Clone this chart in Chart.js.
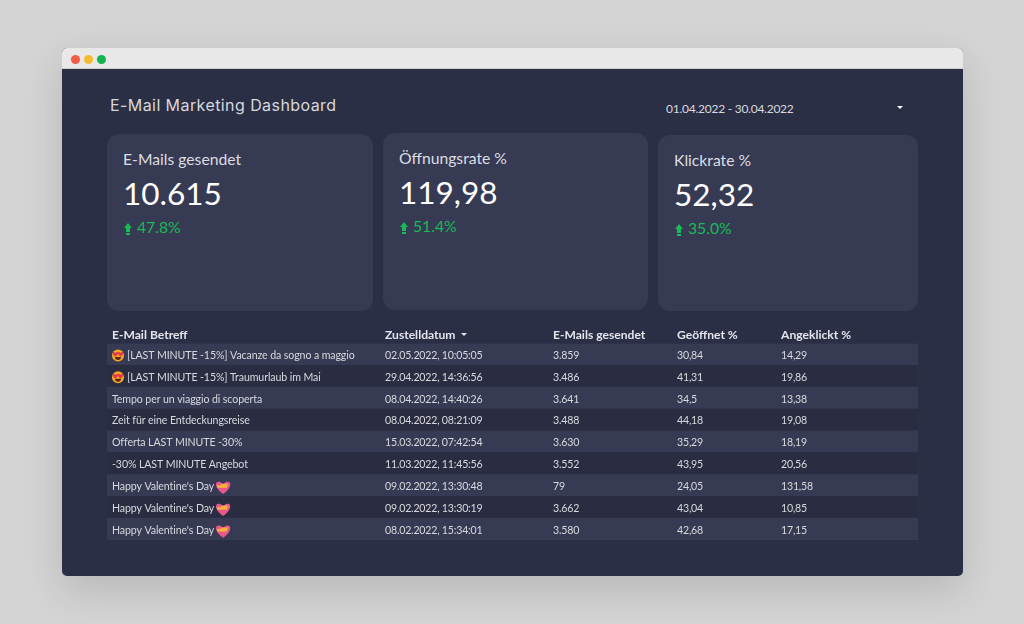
<!DOCTYPE html>
<html lang="de">
<head>
<meta charset="utf-8">
<title>E-Mail Marketing Dashboard</title>
<script src="https://cdn.jsdelivr.net/npm/chart.js@4"></script>
<style>
  html, body { margin: 0; padding: 0; width: 1024px; height: 624px; overflow: hidden; background: #d4d4d4; font-family: Lato, sans-serif; }
  .window { position: absolute; left: 62px; top: 48px; width: 901px; height: 528px; border-radius: 5px; overflow: hidden; box-shadow: 0 14px 40px rgba(0,0,0,.14); background: #2b2f45; }
  .bar { height: 21px; background: #e8e8e8; border-bottom: 1px solid #cfcfcf; box-sizing: border-box; }
  .dot { position: absolute; top: 6.5px; width: 9px; height: 9px; border-radius: 50%; }
  .title { position: absolute; left: 110px; top: 95px; font: 400 16px Inter, sans-serif; letter-spacing: .42px; color: #d6d7dc; white-space: nowrap; }
  .range { position: absolute; left: 666px; top: 101px; font-size: 12px; letter-spacing: -.25px; color: #d8d9de; white-space: nowrap; }
  .caret { position: absolute; left: 897px; top: 106px; width: 0; height: 0; border: 3px solid transparent; border-top: 3px solid #fff; }
  .card { position: absolute; background: #363a52; border-radius: 12px; }
  .card .name { position: absolute; left: 16px; top: 16px; font-size: 15.7px; color: #dcdde2; white-space: nowrap; }
  .card .val { position: absolute; left: 16px; top: 38px; font-size: 31.5px; line-height: 42px; color: #fff; white-space: nowrap; }
  .card .delta { position: absolute; left: 30px; top: 84px; font-size: 15.7px; color: #18bb55; white-space: nowrap; }
  .card svg { position: absolute; left: 17px; top: 89px; }
  #tableChart { position: absolute; left: 107px; top: 324px; }
</style>
</head>
<body>
<div class="window"><div class="bar"></div>
  <div class="dot" style="left:8.5px;background:#f25c45"></div>
  <div class="dot" style="left:21.5px;background:#f6bb30"></div>
  <div class="dot" style="left:34.5px;background:#15b34e"></div>
</div>
<div class="title">E-Mail Marketing Dashboard</div>
<div class="range">01.04.2022 - 30.04.2022</div>
<div class="caret"></div>
<div id="cards"></div>
<canvas id="tableChart" width="811" height="216" style="width:811px;height:216px"></canvas>
<script>
// KPI cards
const kpiNames = ['E-Mails gesendet', 'Öffnungsrate %', 'Klickrate %'];
const kpiValues = ['10.615', '119,98', '52,32'];
const kpiDeltas = ['47.8%', '51.4%', '35.0%'];

// table
const headers = ['E-Mail Betreff', 'Zustelldatum', 'E-Mails gesendet', 'Geöffnet %', 'Angeklickt %'];
const subjects = [
  '[LAST MINUTE -15%] Vacanze da sogno a maggio',
  '[LAST MINUTE -15%] Traumurlaub im Mai',
  'Tempo per un viaggio di scoperta',
  'Zeit für eine Entdeckungsreise',
  'Offerta LAST MINUTE -30%',
  '-30% LAST MINUTE Angebot',
  "Happy Valentine's Day",
  "Happy Valentine's Day",
  "Happy Valentine's Day"
];
const subjectIcons = ['face', 'face', '', '', '', '', 'heart', 'heart', 'heart'];
const dates = [
  '02.05.2022, 10:05:05', '29.04.2022, 14:36:56', '08.04.2022, 14:40:26',
  '08.04.2022, 08:21:09', '15.03.2022, 07:42:54', '11.03.2022, 11:45:56',
  '09.02.2022, 13:30:48', '09.02.2022, 13:30:19', '08.02.2022, 15:34:01'
];
const sent = ['3.859', '3.486', '3.641', '3.488', '3.630', '3.552', '79', '3.662', '3.580'];
const opened = ['30,84', '41,31', '34,5', '44,18', '35,29', '43,95', '24,05', '43,04', '42,68'];
const clicked = ['14,29', '19,86', '13,38', '19,08', '18,19', '20,56', '131,58', '10,85', '17,15'];

const cardBoxes = [[107, 134, 266, 177], [383, 133, 265, 177], [658, 135, 260, 176]];
const cardsEl = document.getElementById('cards');
kpiNames.forEach((name, i) => {
  const [l, t, w, h] = cardBoxes[i];
  const card = document.createElement('div');
  card.className = 'card';
  card.style.cssText = `left:${l}px;top:${t}px;width:${w}px;height:${h}px`;
  card.innerHTML = `<div class="name">${name}</div><div class="val">${kpiValues[i]}</div>
    <svg width="8" height="12" viewBox="0 0 8 12"><path d="M4 0 8 5H6V9H2V5H0ZM2 10H6V12H2Z" fill="#18bb55"/></svg>
    <div class="delta">${kpiDeltas[i]}</div>`;
  cardsEl.appendChild(card);
});

const TABLE_W = 811;
const colStart = [5, 278, 446, 570, 674];

function drawFace(ctx, x, y) {
  ctx.fillStyle = '#f5a623';
  ctx.beginPath(); ctx.arc(x, y, 6, 0, Math.PI * 2); ctx.fill();
  ctx.fillStyle = '#e5384a';
  [-2.6, 2.6].forEach(dx => drawHeart(ctx, x + dx, y - 1.6, 2.6));
  ctx.fillStyle = '#5a2a1c';
  ctx.beginPath(); ctx.arc(x, y + 1.6, 3, 0, Math.PI); ctx.fill();
}

function drawHeart(ctx, x, y, r) {
  ctx.beginPath();
  ctx.moveTo(x, y + r * 1.1);
  ctx.bezierCurveTo(x - r * 1.7, y - r * 0.1, x - r, y - r * 1.2, x, y - r * 0.35);
  ctx.bezierCurveTo(x + r, y - r * 1.2, x + r * 1.7, y - r * 0.1, x, y + r * 1.1);
  ctx.fill();
}

function drawRibbonHeart(ctx, x, y) {
  ctx.fillStyle = '#e8588a';
  drawHeart(ctx, x, y, 7);
  ctx.fillStyle = '#f6b23c';
  ctx.fillRect(x - 6, y - 1.2, 10, 2.6);
  ctx.fillRect(x - 2, y - 2.6, 6.5, 2);
}

// draws the header row and the cell texts on top of the row stripes
const tableText = {
  id: 'tableText',
  afterDatasetsDraw(chart) {
    const { ctx, scales: { x, y } } = chart;
    const columns = [subjects, dates, sent, opened, clicked];
    ctx.save();
    ctx.textBaseline = 'middle';
    ctx.textAlign = 'left';

    ctx.font = '700 12.1px Lato';
    ctx.fillStyle = '#e4e5ea';
    headers.forEach((h, c) => ctx.fillText(h, x.getPixelForValue(colStart[c]), 11));
    const cx = x.getPixelForValue(colStart[1]) + 79;
    ctx.beginPath(); ctx.moveTo(cx - 3, 9); ctx.lineTo(cx + 3, 9); ctx.lineTo(cx, 12); ctx.fill();

    ctx.font = '400 10.6px Lato';
    subjects.forEach((_, r) => {
      const py = y.getPixelForValue(r) + 1;
      columns.forEach((col, c) => {
        let px = x.getPixelForValue(colStart[c]);
        ctx.letterSpacing = c === 0 ? '-0.1px' : '-0.2px';
        if (c === 0 && subjectIcons[r] === 'face') {
          drawFace(ctx, px + 6, py);
          px += 15;
        }
        ctx.fillStyle = '#d8d9de';
        ctx.fillText(col[r], px, py);
        if (c === 0 && subjectIcons[r] === 'heart') {
          drawRibbonHeart(ctx, px + ctx.measureText(col[r]).width + 9, py);
        }
      });
    });
    ctx.restore();
  }
};

new Chart(document.getElementById('tableChart'), {
  type: 'bar',
  data: {
    labels: subjects.map((_, r) => r),
    datasets: [{
      data: subjects.map(() => TABLE_W),
      backgroundColor: subjects.map((_, r) => r % 2 === 0 ? '#363a52' : '#2a2d42'),
      barPercentage: 1,
      categoryPercentage: 1,
      borderWidth: 0
    }]
  },
  options: {
    indexAxis: 'y',
    responsive: false,
    animation: false,
    layout: { padding: { top: 19.5 } },
    plugins: { legend: { display: false }, tooltip: { enabled: false } },
    scales: {
      x: { type: 'linear', min: 0, max: TABLE_W, display: false },
      y: { type: 'category', display: false }
    }
  },
  plugins: [tableText]
});
</script>
</body>
</html>
